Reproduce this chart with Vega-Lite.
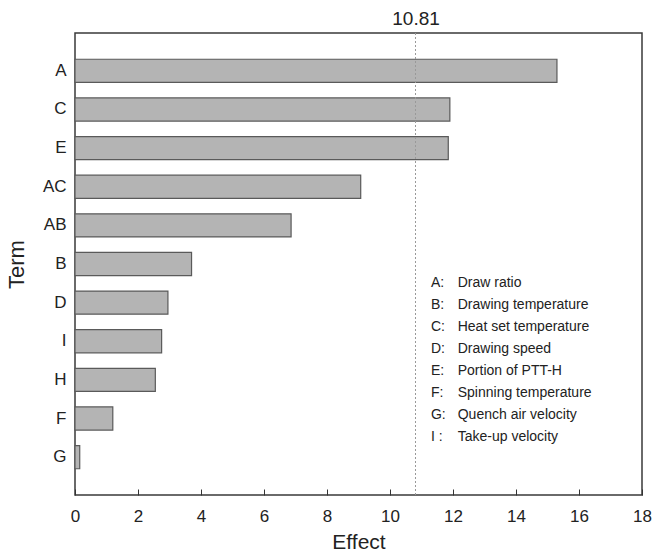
{
  "$schema": "https://vega.github.io/schema/vega-lite/v6.json",
  "width": 567,
  "height": 462,
  "autosize": {"type": "none"},
  "padding": {"left": 75, "top": 33, "right": 10, "bottom": 63},
  "background": "white",
  "config": {
    "font": "Liberation Sans",
    "view": {"stroke": "#3a3a3a", "strokeWidth": 1.5},
    "axis": {"grid": false, "domain": false, "labelColor": "#222", "titleColor": "#222", "titleFontWeight": "normal"}
  },
  "datasets": {
    "terms": [
      {"term": "A", "effect": 15.3},
      {"term": "C", "effect": 11.9},
      {"term": "E", "effect": 11.85},
      {"term": "AC", "effect": 9.07},
      {"term": "AB", "effect": 6.86},
      {"term": "B", "effect": 3.7},
      {"term": "D", "effect": 2.95},
      {"term": "I", "effect": 2.75},
      {"term": "H", "effect": 2.55},
      {"term": "F", "effect": 1.2},
      {"term": "G", "effect": 0.15}
    ],
    "threshold": [{"t": 10.81}],
    "legend": [
      {"k": "A:", "d": "Draw ratio", "r": 11.36},
      {"k": "B:", "d": "Drawing temperature", "r": 12.36},
      {"k": "C:", "d": "Heat set temperature", "r": 13.36},
      {"k": "D:", "d": "Drawing speed", "r": 14.36},
      {"k": "E:", "d": "Portion of PTT-H", "r": 15.36},
      {"k": "F:", "d": "Spinning temperature", "r": 16.36},
      {"k": "G:", "d": "Quench air velocity", "r": 17.36},
      {"k": "I :", "d": "Take-up velocity", "r": 18.36}
    ]
  },
  "layer": [
    {
      "data": {"name": "terms"},
      "mark": {"type": "bar", "fill": "#b4b4b4", "stroke": "#5a5a5a", "strokeWidth": 1.2},
      "encoding": {
        "x": {
          "field": "effect", "type": "quantitative",
          "scale": {"domain": [0, 18], "nice": false, "zero": true},
          "axis": {
            "orient": "bottom", "values": [0, 2, 4, 6, 8, 10, 12, 14, 16, 18],
            "tickSize": -6, "tickColor": "#333", "labelFontSize": 17, "labelPadding": 19, "labelFlush": false,
            "title": "Effect", "titleFontSize": 21, "titlePadding": 7
          }
        },
        "y": {
          "field": "term", "type": "nominal", "sort": null,
          "scale": {"paddingInner": 0.4, "paddingOuter": 0.68},
          "axis": {"ticks": false, "labelFontSize": 17, "labelPadding": 9, "title": "Term", "titleFontSize": 22, "titlePadding": 14}
        }
      }
    },
    {
      "data": {"name": "threshold"},
      "mark": {"type": "rule", "color": "#999", "strokeDash": [2, 2], "strokeWidth": 1},
      "encoding": {
        "x": {
          "field": "t", "type": "quantitative",
          "scale": {"domain": [0, 18], "nice": false},
          "axis": {"orient": "top", "values": [10.81], "ticks": false, "labelFontSize": 19, "labelPadding": 5, "labelFlush": false, "title": null, "format": ".2f"}
        }
      }
    },
    {
      "data": {"name": "legend"},
      "mark": {"type": "text", "align": "left", "baseline": "middle", "fontSize": 14, "color": "#222"},
      "encoding": {
        "x": {"datum": 11.3, "type": "quantitative", "scale": {"domain": [0, 18], "nice": false}, "axis": null},
        "y": {"field": "r", "type": "quantitative", "scale": {"domain": [0, 21], "reverse": true, "nice": false, "zero": true}, "axis": null},
        "text": {"field": "k"}
      }
    },
    {
      "data": {"name": "legend"},
      "mark": {"type": "text", "align": "left", "baseline": "middle", "fontSize": 14, "color": "#222"},
      "encoding": {
        "x": {"datum": 12.15, "type": "quantitative", "scale": {"domain": [0, 18], "nice": false}, "axis": null},
        "y": {"field": "r", "type": "quantitative", "scale": {"domain": [0, 21], "reverse": true, "nice": false, "zero": true}, "axis": null},
        "text": {"field": "d"}
      }
    }
  ],
  "resolve": {"scale": {"x": "independent", "y": "independent"}, "axis": {"x": "independent", "y": "independent"}}
}
